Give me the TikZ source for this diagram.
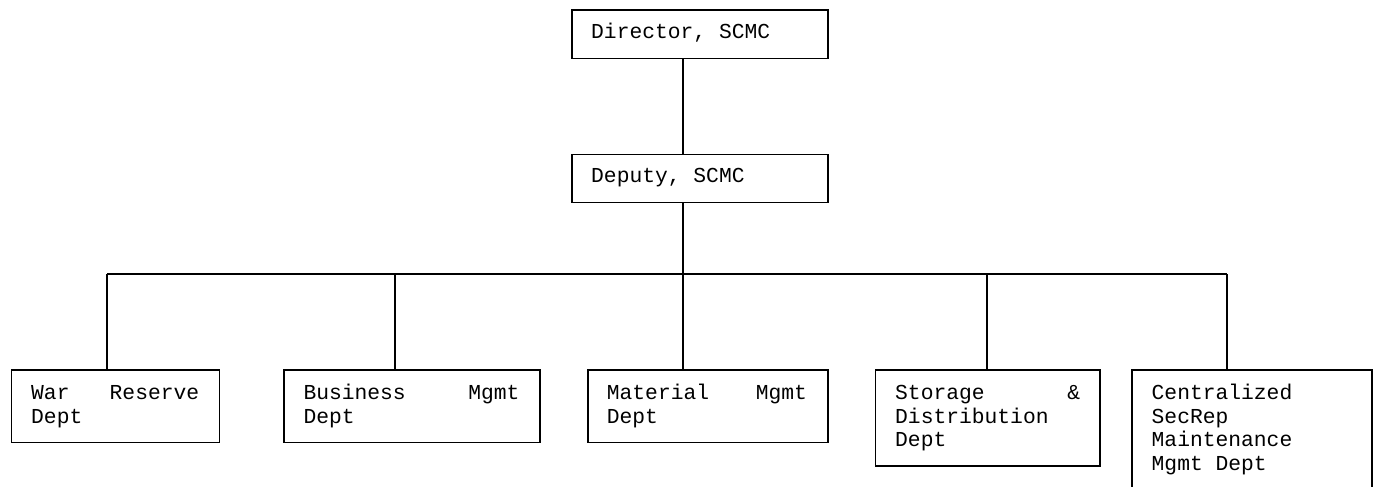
\documentclass[tikz,border=0pt]{standalone}
\usepackage{fontspec}
\setmonofont{Liberation Mono}
\newcommand\orgfont{\fontsize{21.3pt}{23.7pt}\selectfont\ttfamily}
\begin{document}
\begin{tikzpicture}[x=1pt,y=-1pt,
  box/.style={draw, line width=1.6pt, rectangle, inner sep=0pt, anchor=north west},
  txt/.style={anchor=base west, inner sep=0pt, font=\orgfont},
  link/.style={line width=1.6pt}]
\useasboundingbox (0,0) rectangle (1381,487);
\clip (0,0) rectangle (1381,487);
% boxes
\node[box, minimum width=256pt, minimum height=48.4pt] (dir) at (571,9.3) {};
\node[box, minimum width=256pt, minimum height=48pt] (dep) at (571,153.7) {};
\node[box, minimum width=208pt, minimum height=72.7pt] (war) at (10.7,369) {};
\node[box, minimum width=256pt, minimum height=72.7pt] (bus) at (283,369) {};
\node[box, minimum width=240pt, minimum height=72.7pt] (mat) at (587,369) {};
\node[box, minimum width=224.3pt, minimum height=96pt] (sto) at (874.7,369) {};
\node[box, minimum width=240pt, minimum height=140pt] (cen) at (1131,369) {};
% texts
\node[txt] (dirt) at (591,38.7) {Director, SCMC};
\node[txt] (dept) at (591,182.2) {Deputy, SCMC};
\node[txt] (wart) at (31,399.5) {\parbox[t]{168pt}{War\hfill Reserve\\Dept}};
\node[txt] (bust) at (303.3,399.5) {\parbox[t]{216pt}{Business\hfill Mgmt\\Dept}};
\node[txt] (matt) at (606.7,399.5) {\parbox[t]{200pt}{Material\hfill Mgmt\\Dept}};
\node[txt] (stot) at (895,399.5) {\parbox[t]{185pt}{Storage\hfill \&\\Distribution\\Dept}};
\node[txt] (cent) at (1151.5,399.5) {\parbox[t]{200pt}{Centralized\\SecRep\\Maintenance\\Mgmt Dept}};
% connectors
\coordinate (jc) at (683,274);
\coordinate (j1) at (107,274);
\coordinate (j2) at (395,274);
\coordinate (j4) at (987,274);
\coordinate (j5) at (1227,274);
\draw[link] (dir.south -| jc) -- (dep.north -| jc);
\draw[link] (dep.south -| jc) -- (jc);
\draw[link] (j1) -- (j5);
\draw[link] (j1) -- (war.north -| j1);
\draw[link] (j2) -- (bus.north -| j2);
\draw[link] (jc) -- (mat.north -| jc);
\draw[link] (j4) -- (sto.north -| j4);
\draw[link] (j5) -- (cen.north -| j5);
\end{tikzpicture}
\end{document}
